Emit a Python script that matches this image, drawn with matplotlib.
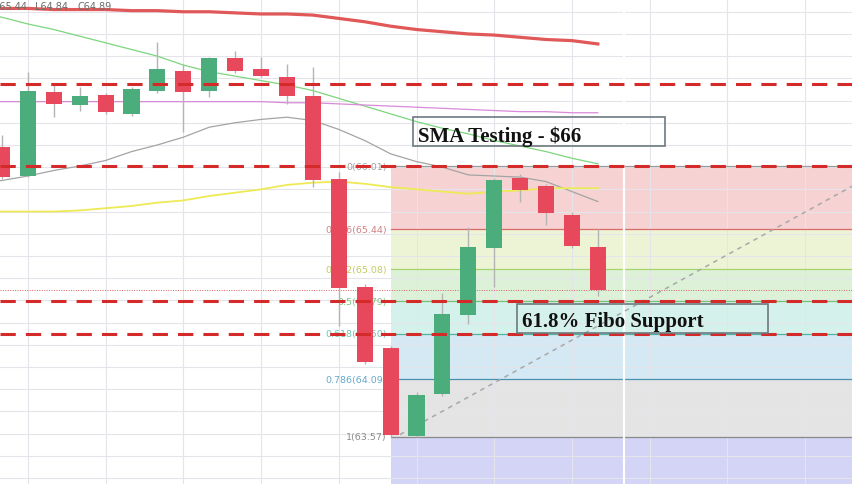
import matplotlib.pyplot as plt
from matplotlib.patches import Rectangle

# --- dane swiecowe ---
opens = [66.18, 65.92, 66.68, 66.56, 66.65, 66.48, 66.69, 66.87, 66.69, 66.98, 66.88, 66.81,
         66.64, 65.89, 64.92, 64.37, 63.58, 63.96, 64.67, 65.27, 65.90, 65.83, 65.57, 65.28]
highs = [66.29, 66.86, 66.75, 66.72, 66.67, 66.72, 67.13, 66.93, 66.99, 67.05, 66.99, 66.93,
         66.90, 65.96, 64.95, 64.39, 63.97, 64.87, 65.46, 65.90, 65.94, 65.85, 65.60, 65.44]
lows = [65.89, 65.91, 66.45, 66.51, 66.48, 66.46, 66.67, 66.32, 66.63, 66.85, 66.81, 66.57,
        65.82, 64.57, 64.23, 63.57, 63.57, 63.94, 64.59, 64.92, 65.69, 65.48, 65.27, 64.84]
closes = [65.91, 66.69, 66.57, 66.64, 66.50, 66.70, 66.88, 66.68, 66.98, 66.87, 66.82, 66.64,
          65.88, 64.91, 64.24, 63.59, 63.95, 64.68, 65.28, 65.88, 65.79, 65.59, 65.29, 64.89]

# --- srednie kroczace, od indeksu -1 do 23 ---
ma_x = list(range(-1, 24))
ma_red = [67.44, 67.43, 67.43, 67.42, 67.42, 67.42, 67.41, 67.41, 67.40, 67.40, 67.39, 67.38, 67.38,
          67.37, 67.34, 67.31, 67.27, 67.24, 67.22, 67.20, 67.19, 67.17, 67.15, 67.14, 67.11]
ma_green = [67.41, 67.35, 67.29, 67.24, 67.18, 67.12, 67.06, 67.00, 66.92, 66.86, 66.82, 66.78, 66.74,
            66.69, 66.62, 66.55, 66.48, 66.41, 66.35, 66.30, 66.24, 66.19, 66.14, 66.08, 66.03]
ma_purple = [66.59, 66.59, 66.59, 66.59, 66.59, 66.59, 66.59, 66.59, 66.59, 66.59, 66.59, 66.59, 66.58,
             66.58, 66.57, 66.56, 66.55, 66.54, 66.53, 66.52, 66.51, 66.50, 66.50, 66.49, 66.49]
ma_gray = [65.84, 65.88, 65.92, 65.97, 66.01, 66.06, 66.14, 66.20, 66.27, 66.36, 66.40, 66.43, 66.45,
           66.42, 66.34, 66.24, 66.12, 66.05, 66.00, 65.93, 65.92, 65.91, 65.87, 65.78, 65.69]
ma_yellow = [65.60, 65.60, 65.60, 65.60, 65.61, 65.63, 65.65, 65.68, 65.70, 65.74, 65.77, 65.80, 65.84,
             65.86, 65.87, 65.85, 65.82, 65.80, 65.78, 65.76, 65.78, 65.79, 65.81, 65.81, 65.81]

# --- Fibonacci ---
fib_ratios = ['0', '0.236', '0.382', '0.5', '0.618', '0.786', '1']
fib_prices = [66.01, 65.44, 65.08, 64.79, 64.50, 64.09, 63.57]
fib_fill = ['#f6d2d2', '#edf4d5', '#dcf1d7', '#d4f2eb', '#d4e9f4', '#e4e4e4']
fib_line = ['#9a9a9a', '#d86a6a', '#a6d36e', '#72c472', '#4fb3a2', '#4a91ad', '#8a8a8a']
fib_text = ['#a0a0a0', '#d08080', '#c2cc60', '#7cc47c', '#6cc4ac', '#66a8cc', '#8a8a8a']

support_levels = [66.75, 66.01, 64.79, 64.50]
last_close = 64.89
trend_x = [15.36, 34]
trend_y = [63.59, 65.98]

fig = plt.figure(figsize=(8.52, 4.85), dpi=100)
ax = fig.add_axes([0, 0, 1, 1])
x_left, x_right = -0.077, 32.81
ax.set_xlim(x_left, x_right)
ax.set_ylim(63.145, 67.515)
ax.axis('off')

# siatka
for gx in range(1, 33, 3):
    ax.axvline(gx, color='#e4e4ea', lw=0.8, zorder=1)
gy = 63.2
while gy < 67.5:
    ax.axhline(gy, color='#e4e4ea', lw=0.8, zorder=1)
    gy += 0.2

# strefy Fibonacciego
fib_start = 15
for k in range(len(fib_fill)):
    ax.fill_between([fib_start, x_right + 1], fib_prices[k + 1], fib_prices[k],
                    color=fib_fill[k], lw=0, zorder=0.5)
ax.fill_between([fib_start, x_right + 1], 63.0, fib_prices[-1], color='#d4d4f6', lw=0, zorder=0.5)
for k in range(len(fib_prices)):
    ax.plot([fib_start, x_right + 1], [fib_prices[k]] * 2, color=fib_line[k], lw=0.9, zorder=1.5)
    ax.text(14.86, fib_prices[k], '%s(%.2f)' % (fib_ratios[k], fib_prices[k]), color=fib_text[k],
            fontsize=6.8, ha='right', va='center', zorder=1.6)

ax.axvline(24, color='white', lw=1.6, zorder=1.7)

# srednie
ax.plot(ma_x, ma_red, color='#e05858', lw=2.3, zorder=2)
ax.plot(ma_x, ma_green, color='#7dd67d', lw=0.9, zorder=2)
ax.plot(ma_x, ma_purple, color='#d98ad9', lw=0.9, zorder=2)
ax.plot(ma_x, ma_gray, color='#a4a4a4', lw=0.9, zorder=2)
ax.plot(ma_x, ma_yellow, color='#eeea55', lw=1.3, zorder=2)

ax.plot(trend_x, trend_y, color='#a8a8a8', lw=1.1, ls=(0, (3, 3)), zorder=2)
ax.axhline(last_close, color='#d86060', lw=0.7, ls=(0, (1, 1.5)), zorder=2)

# swiece
for i in range(len(opens)):
    up = closes[i] >= opens[i]
    col = '#4cad7c' if up else '#e8485b'
    ax.vlines(i, lows[i], highs[i], color='#b4b4b4', lw=1, zorder=2.5)
    ax.bar(i, abs(closes[i] - opens[i]), bottom=min(opens[i], closes[i]), width=0.62,
           color=col, zorder=3)

for lvl in support_levels:
    ax.axhline(lvl, color='#d42a2a', lw=2.2, ls=(0, (5, 3.3)), zorder=4)

# opisy
ax.add_patch(Rectangle((15.86, 66.19), 9.73, 0.26, fill=False, ec='#6c7a80', lw=1.2, zorder=5))
ax.text(16.06, 66.24, 'SMA Testing - $66', family='Liberation Serif', weight='bold',
        fontsize=15, color='#111111', va='baseline', zorder=5)
ax.add_patch(Rectangle((19.88, 64.51), 9.68, 0.26, fill=False, ec='#6c7a80', lw=1.2, zorder=5))
ax.text(20.07, 64.57, '61.8% Fibo Support', family='Liberation Serif', weight='bold',
        fontsize=15, color='#111111', va='baseline', zorder=5)

fig.text(-8 / 852, 1 - 10 / 485, 'H65.44', fontsize=7, color='#6b6b6b', va='baseline')
fig.text(35 / 852, 1 - 10 / 485, 'L64.84', fontsize=7, color='#6b6b6b', va='baseline')
fig.text(77 / 852, 1 - 10 / 485, 'C64.89', fontsize=7, color='#6b6b6b', va='baseline')

fig.savefig('out.png', dpi=100)
